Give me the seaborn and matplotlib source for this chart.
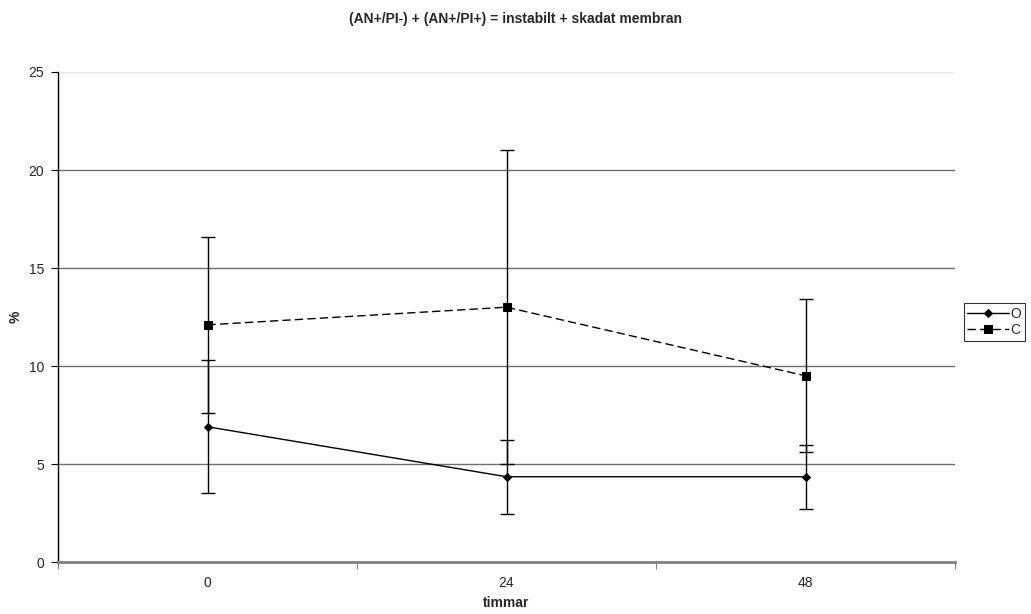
import numpy as np
import pandas as pd
import matplotlib
matplotlib.use('Agg')
import matplotlib.pyplot as plt
import seaborn as sns

# data
timmar = ['0', '24', '48']
o_mean = [6.9, 4.35, 4.35]
o_err = [3.4, 1.9, 1.63]
c_mean = [12.1, 13.0, 9.5]
c_err = [4.5, 8.0, 3.9]

pos = list(range(len(timmar)))
df = pd.DataFrame({
    'pos': pos + pos,
    'varde': o_mean + c_mean,
    'fel': o_err + c_err,
    'grupp': ['O'] * len(pos) + ['C'] * len(pos),
})

sns.set_style('white')
plt.rcParams['font.family'] = ['Liberation Sans', 'DejaVu Sans']

fig = plt.figure(figsize=(10.31, 6.14), dpi=100)
ax = fig.add_axes([58 / 1031, 1 - 562 / 614, (955 - 58) / 1031, (562 - 72) / 614])

# error bars first so markers sit on top
for g in ['O', 'C']:
    d = df[df['grupp'] == g]
    ax.errorbar(d['pos'], d['varde'], yerr=d['fel'], fmt='none', ecolor='black',
                elinewidth=1, capsize=5, capthick=1, zorder=3)

sns.lineplot(data=df, x='pos', y='varde', hue='grupp', style='grupp',
             hue_order=['O', 'C'], style_order=['O', 'C'],
             palette=['black', 'black'], markers={'O': 'D', 'C': 's'},
             dashes={'O': '', 'C': (6, 3)}, markersize=6, linewidth=1,
             markeredgecolor='black', ax=ax, zorder=4)

# diamond is a bit smaller than the square
for line in ax.get_lines():
    if line.get_marker() == 'D':
        line.set_markersize(4.5)

ax.set_xlim(-0.5, len(timmar) - 0.5)
ax.set_ylim(0, 25)
ax.set_yticks(range(0, 26, 5))
for y in range(5, 21, 5):
    ax.axhline(y, color='#6e6e6e', linewidth=1, zorder=1)
ax.axhline(25, color='#e6e6e6', linewidth=1, zorder=1)

ax.set_xticks(np.arange(-0.5, len(timmar), 1.0))
ax.set_xticklabels([])
ax.set_xticks(pos, minor=True)
ax.set_xticklabels(timmar, minor=True)
ax.tick_params(axis='x', which='major', direction='out', length=5, color='#808080', bottom=True)
ax.tick_params(axis='x', which='minor', length=0, pad=10, labelsize=10)
ax.tick_params(axis='y', direction='out', length=5, color='black', left=True, labelsize=10, pad=5)

for s in ['top', 'right']:
    ax.spines[s].set_visible(False)
ax.spines['left'].set_color('black')
ax.spines['left'].set_linewidth(1)
ax.spines['bottom'].set_color('#808080')
ax.spines['bottom'].set_linewidth(2)

ax.set_xlabel('timmar', fontsize=10, fontweight='bold', va='center')
ax.xaxis.set_label_coords(0.5, -(603 - 562) / 490, transform=ax.transAxes)
ax.set_ylabel('%', fontsize=10, fontweight='bold', va='center')
ax.yaxis.set_label_coords(-(58 - 16) / 897, 0.5, transform=ax.transAxes)
fig.suptitle('(AN+/PI-) + (AN+/PI+) = instabilt + skadat membran',
             fontsize=10, fontweight='bold', y=1 - 19 / 614, va='center')

leg = ax.legend(loc='center left', bbox_to_anchor=(964 / 1031, 1 - 322 / 614),
                bbox_transform=fig.transFigure, frameon=True, fancybox=False,
                edgecolor='black', fontsize=10, handlelength=3.0, handletextpad=0.1,
                borderpad=0.25, labelspacing=0.15, borderaxespad=0)
leg.get_frame().set_linewidth(0.8)

fig.savefig('out.png', dpi=100)
